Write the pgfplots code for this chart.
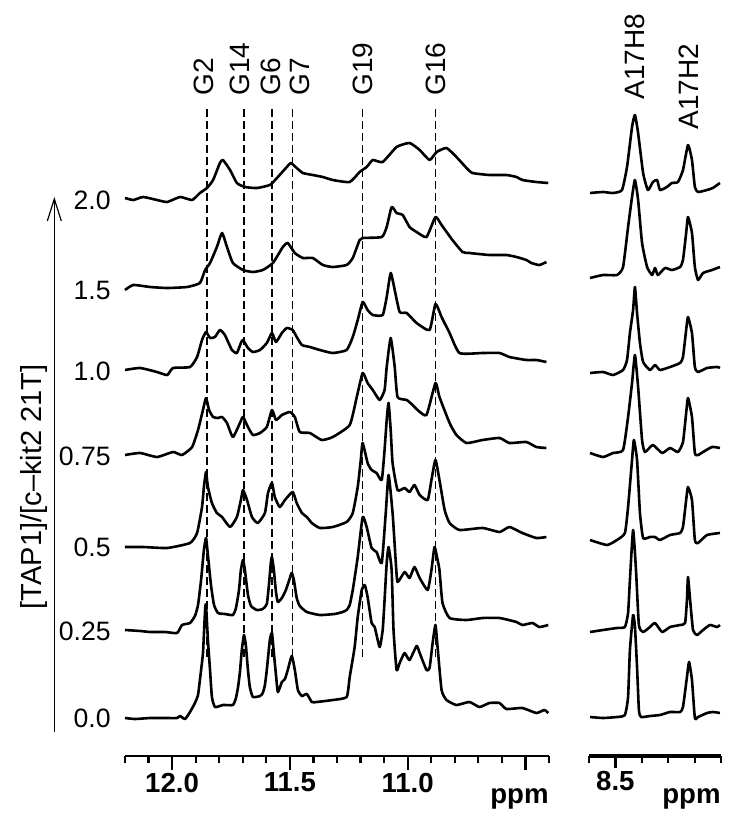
\documentclass[border=0pt]{standalone}
\usepackage{pgfplots}
\pgfplotsset{compat=1.18}
\usepackage{fontspec}
\setmainfont{Liberation Sans}
\usetikzlibrary{arrows.meta}
\pgfplotsset{
  spec/.style={line width=1.3pt, black, line join=round, mark=none, smooth, tension=0.3},
  guide/.style={line width=0.6pt, black, dash pattern=on 4pt off 2pt, mark=none},
}
\tikzset{toplab/.style={rotate=90, anchor=west, inner sep=0pt, font=\fontsize{14}{16}\selectfont}}
\begin{document}
\begin{tikzpicture}
\useasboundingbox (-62.5pt,-32pt) rectangle (307pt,378pt);
% ---------------- left panel: 12.2 -- 10.4 ppm ----------------
\begin{axis}[
  at={(0pt,0pt)}, anchor=south west,
  scale only axis, width=212pt, height=378pt,
  xmin=10.4, xmax=12.2, x dir=reverse,
  ymin=64, ymax=820,
  clip=false,
  axis x line*=bottom, axis y line*=left,
  y axis line style={draw=none},
  x axis line style={line width=1.1pt},
  ytick={102,189,273,364,449,530,620},
  yticklabels={0.0,0.25,0.5,0.75,1.0,1.5,2.0},
  ytick style={draw=none},
  yticklabel style={font=\fontsize{13.3}{15}\selectfont, inner sep=0pt},
  xtick={12.0,11.5,11.0,10.5},
  xticklabels={12.0,11.5,11.0,{}},
  minor xtick={12.2,12.1,11.9,11.8,11.7,11.6,11.4,11.3,11.2,11.1,10.9,10.8,10.7,10.6,10.4},
  tick align=outside,
  major tick length=7pt, minor tick length=3.5pt,
  xtick style={line width=1.1pt, black},
  xticklabel style={font=\bfseries\fontsize{13.8}{15}\selectfont, inner sep=0pt, yshift=-1.3pt},
  xlabel={ppm},
  xlabel style={at={(axis description cs:1,0)}, anchor=base east, yshift=-23.5pt,
    font=\bfseries\fontsize{13.8}{15}\selectfont, inner sep=0pt},
  ylabel={{[TAP1]/[c–kit2 21T]}},
  every axis y label/.style={at={(axis description cs:-0.215,0.356)}, rotate=90, anchor=center,
    font=\fontsize{14.5}{17}\selectfont},
]
% guide lines
\addplot[guide] coordinates {(11.852,163) (11.852,712)};
\addplot[guide] coordinates {(11.695,163) (11.695,712)};
\addplot[guide] coordinates {(11.576,163) (11.576,712)};
\addplot[guide] coordinates {(11.488,163) (11.488,712)};
\addplot[guide] coordinates {(11.191,163) (11.191,712)};
\addplot[guide] coordinates {(10.882,163) (10.882,712)};
% titration arrow
\addplot[line width=0.6pt, black, mark=none, -{Straight Barb[length=11pt, width=7pt]}] coordinates {(12.5,88) (12.5,623)};
% 0.0
\addplot[spec] coordinates {
(12.200,102)(12.157,101)(12.093,102)(12.030,102)(11.979,102)(11.966,104)(11.945,101)(11.924,108)
(11.903,117)(11.890,125)(11.882,140)(11.869,167)(11.860,210)(11.856,215)(11.848,180)(11.839,150)
(11.831,123)(11.818,113)(11.784,115)(11.742,115)(11.729,122)(11.720,133)(11.712,148)(11.704,170)
(11.695,185)(11.687,175)(11.678,150)(11.670,133)(11.657,123)(11.627,124)(11.615,127)(11.606,135)
(11.598,150)(11.585,180)(11.576,187)(11.568,167)(11.559,145)(11.551,128)(11.534,138)(11.521,141)
(11.509,150)(11.492,164)(11.479,150)(11.466,130)(11.449,124)(11.428,126)(11.407,118)(11.386,118)
(11.318,120)(11.259,123)(11.246,143)(11.225,173)(11.212,203)(11.195,230)(11.182,235)(11.170,223)
(11.153,197)(11.140,193)(11.119,173)(11.106,190)(11.098,220)(11.089,257)(11.081,273)(11.068,250)
(11.060,190)(11.047,150)(11.034,157)(11.013,167)(10.992,160)(10.962,174)(10.949,167)(10.920,150)
(10.907,152)(10.894,177)(10.882,195)(10.873,173)(10.856,130)(10.835,120)(10.793,115)(10.738,118)
(10.695,113)(10.653,117)(10.610,117)(10.581,111)(10.513,112)(10.454,107)(10.420,110)(10.403,107)};
% 0.25
\addplot[spec] coordinates {
(12.200,190)(12.136,189)(12.093,188)(12.030,188)(11.979,187)(11.958,195)(11.924,197)(11.903,204)
(11.890,215)(11.877,240)(11.865,270)(11.856,282)(11.848,265)(11.835,235)(11.822,215)(11.805,207)
(11.776,206)(11.742,205)(11.729,212)(11.716,230)(11.708,250)(11.699,260)(11.691,250)(11.678,225)
(11.665,214)(11.640,210)(11.615,211)(11.598,216)(11.589,235)(11.581,257)(11.576,263)(11.568,250)
(11.559,228)(11.551,218)(11.534,222)(11.517,230)(11.500,242)(11.492,247)(11.483,240)(11.471,222)
(11.458,214)(11.428,208)(11.373,205)(11.310,206)(11.276,208)(11.259,210)(11.246,215)(11.233,230)
(11.212,263)(11.191,303)(11.174,293)(11.153,272)(11.132,268)(11.110,257)(11.093,307)(11.081,345)
(11.064,307)(11.051,260)(11.043,238)(11.013,248)(10.992,242)(10.971,253)(10.949,242)(10.915,230)
(10.899,250)(10.886,273)(10.873,260)(10.865,250)(10.852,217)(10.822,202)(10.750,200)(10.682,202)
(10.610,202)(10.538,198)(10.513,195)(10.470,197)(10.441,193)(10.403,195)};
% 0.5
\addplot[spec] coordinates {
(12.200,273)(12.123,273)(12.021,272)(11.924,277)(11.894,287)(11.873,313)(11.865,333)(11.856,348)
(11.848,333)(11.831,317)(11.810,307)(11.788,303)(11.754,293)(11.725,303)(11.708,320)(11.699,330)
(11.682,320)(11.661,303)(11.636,297)(11.606,307)(11.593,327)(11.576,337)(11.564,323)(11.543,313)
(11.521,320)(11.488,328)(11.471,317)(11.449,307)(11.428,303)(11.407,297)(11.373,292)(11.318,293)
(11.259,298)(11.233,307)(11.212,333)(11.199,360)(11.191,377)(11.170,357)(11.153,350)(11.132,347)
(11.110,340)(11.098,370)(11.089,400)(11.081,417)(11.072,390)(11.064,357)(11.043,330)(11.013,332)
(10.992,328)(10.971,335)(10.949,325)(10.915,320)(10.899,340)(10.882,360)(10.865,340)(10.843,310)
(10.822,297)(10.780,290)(10.682,292)(10.610,288)(10.568,293)(10.513,287)(10.454,282)(10.411,283)};
% 0.75
\addplot[spec] coordinates {
(12.200,365)(12.136,367)(12.064,363)(11.996,368)(11.958,365)(11.915,373)(11.890,390)(11.869,410)
(11.856,422)(11.843,410)(11.826,403)(11.805,402)(11.788,403)(11.767,397)(11.742,383)(11.712,397)
(11.699,403)(11.678,393)(11.657,385)(11.627,387)(11.598,393)(11.576,410)(11.559,400)(11.534,405)
(11.500,408)(11.479,403)(11.458,388)(11.415,387)(11.365,380)(11.318,383)(11.246,395)(11.216,423)
(11.191,447)(11.170,437)(11.148,430)(11.119,420)(11.098,430)(11.089,453)(11.072,482)(11.055,453)
(11.043,423)(11.004,420)(10.979,415)(10.958,410)(10.920,405)(10.882,437)(10.865,423)(10.822,397)
(10.793,385)(10.750,377)(10.682,380)(10.610,382)(10.568,377)(10.496,378)(10.454,373)(10.411,372)};
% 1.0
\addplot[spec] coordinates {
(12.200,450)(12.136,452)(12.064,448)(12.021,445)(11.996,452)(11.924,453)(11.894,463)(11.873,480)
(11.856,488)(11.839,482)(11.818,483)(11.797,490)(11.776,485)(11.746,470)(11.725,467)(11.708,477)
(11.699,480)(11.678,472)(11.657,468)(11.627,470)(11.598,477)(11.576,487)(11.559,478)(11.534,487)
(11.513,492)(11.488,490)(11.471,483)(11.449,475)(11.415,473)(11.373,470)(11.318,467)(11.259,470)
(11.233,483)(11.212,500)(11.191,518)(11.170,510)(11.148,505)(11.106,505)(11.089,523)(11.072,547)
(11.055,530)(11.034,508)(11.004,507)(10.962,497)(10.907,490)(10.882,516)(10.856,503)(10.822,487)
(10.780,467)(10.682,467)(10.610,467)(10.568,463)(10.496,460)(10.454,460)(10.411,458)};
% 1.5
\addplot[spec] coordinates {
(12.200,530)(12.165,535)(12.093,533)(12.021,532)(11.937,533)(11.882,537)(11.860,550)(11.839,557)
(11.810,573)(11.788,587)(11.767,573)(11.742,557)(11.699,550)(11.657,548)(11.615,550)(11.572,557)
(11.530,573)(11.509,577)(11.479,567)(11.445,562)(11.403,562)(11.360,555)(11.318,553)(11.259,555)
(11.233,562)(11.204,580)(11.191,582)(11.110,583)(11.089,593)(11.068,613)(11.047,607)(11.021,605)
(10.992,593)(10.962,588)(10.920,583)(10.882,603)(10.856,595)(10.810,580)(10.767,568)(10.738,567)
(10.653,565)(10.581,565)(10.538,563)(10.496,560)(10.475,557)(10.441,555)(10.411,558)};
% 2.0
\addplot[spec] coordinates {
(12.200,622)(12.165,620)(12.123,623)(12.064,620)(12.021,618)(11.966,623)(11.915,620)(11.882,627)
(11.852,632)(11.826,640)(11.797,657)(11.784,660)(11.754,650)(11.725,637)(11.691,633)(11.640,632)
(11.585,635)(11.555,642)(11.513,653)(11.496,657)(11.471,652)(11.445,647)(11.403,645)(11.360,643)
(11.318,640)(11.246,638)(11.204,648)(11.174,653)(11.148,660)(11.106,658)(11.047,673)(10.992,677)
(10.949,670)(10.907,660)(10.877,668)(10.835,672)(10.793,663)(10.750,652)(10.725,647)(10.653,645)
(10.581,645)(10.538,643)(10.513,640)(10.454,638)(10.403,637)};
% peak labels
\node[toplab] at (axis cs:11.865,724) {G2};
\node[toplab] at (axis cs:11.712,724) {G14};
\node[toplab] at (axis cs:11.581,724) {G6};
\node[toplab] at (axis cs:11.458,724) {G7};
\node[toplab] at (axis cs:11.191,724) {G19};
\node[toplab] at (axis cs:10.882,724) {G16};
\end{axis}
% ---------------- right panel: 8.6 -- 8.1 ppm ----------------
\begin{axis}[
  at={(232pt,0pt)}, anchor=south west,
  scale only axis, width=66pt, height=378pt,
  xmin=8.1, xmax=8.6, x dir=reverse,
  ymin=64, ymax=820,
  clip=false,
  axis x line*=bottom, axis y line=none,
  x axis line style={line width=1.6pt},
  xtick={8.5}, xticklabels={8.5},
  minor xtick={8.6,8.4,8.3,8.2,8.1},
  tick align=outside,
  major tick length=6pt, minor tick length=3.5pt,
  xtick style={line width=1.1pt, black},
  xticklabel style={font=\bfseries\fontsize{13.8}{15}\selectfont, inner sep=0pt, yshift=-1.3pt},
  xlabel={ppm},
  xlabel style={at={(axis description cs:1,0)}, anchor=base east, yshift=-23.5pt,
    font=\bfseries\fontsize{13.8}{15}\selectfont, inner sep=0pt},
]
\addplot[spec] coordinates {
(8.596,103)(8.547,102)(8.494,103)(8.464,105)(8.452,123)(8.445,170)(8.433,205)(8.426,193)(8.418,153)
(8.411,110)(8.403,103)(8.369,104)(8.331,105)(8.293,108)(8.255,108)(8.244,113)(8.229,143)(8.221,158)
(8.210,140)(8.199,102)(8.187,103)(8.153,107)(8.131,108)(8.104,107)};
\addplot[spec] coordinates {
(8.596,188)(8.547,190)(8.494,192)(8.464,193)(8.452,207)(8.445,240)(8.433,290)(8.422,250)(8.411,195)
(8.395,188)(8.369,193)(8.350,197)(8.323,188)(8.293,193)(8.255,195)(8.236,197)(8.229,220)(8.225,243)
(8.217,220)(8.206,190)(8.191,185)(8.168,190)(8.142,195)(8.115,193)(8.104,195)};
\addplot[spec] coordinates {
(8.596,280)(8.532,275)(8.494,280)(8.464,287)(8.452,313)(8.437,360)(8.430,380)(8.418,360)(8.407,307)
(8.395,282)(8.369,283)(8.350,283)(8.331,280)(8.293,285)(8.255,287)(8.244,293)(8.232,320)(8.225,333)
(8.210,320)(8.199,280)(8.187,277)(8.153,285)(8.104,287)};
\addplot[spec] coordinates {
(8.596,367)(8.547,363)(8.509,367)(8.471,370)(8.452,403)(8.437,437)(8.426,465)(8.414,433)(8.399,380)
(8.388,368)(8.358,375)(8.323,367)(8.293,372)(8.263,368)(8.244,378)(8.232,407)(8.225,422)(8.210,403)
(8.199,367)(8.187,365)(8.168,368)(8.134,373)(8.104,372)};
\addplot[spec] coordinates {
(8.596,447)(8.547,448)(8.509,445)(8.471,450)(8.456,460)(8.445,487)(8.433,510)(8.426,533)(8.418,507)
(8.407,477)(8.395,458)(8.369,450)(8.350,455)(8.331,450)(8.293,453)(8.255,457)(8.244,463)(8.232,490)
(8.225,503)(8.210,487)(8.199,453)(8.187,448)(8.153,452)(8.115,453)(8.104,452)};
\addplot[spec] coordinates {
(8.596,542)(8.547,545)(8.494,545)(8.471,553)(8.452,593)(8.437,623)(8.426,640)(8.414,620)(8.399,577)
(8.380,553)(8.361,545)(8.350,552)(8.339,545)(8.312,552)(8.286,550)(8.255,553)(8.244,560)(8.232,587)
(8.225,603)(8.210,587)(8.199,553)(8.187,540)(8.168,547)(8.134,550)(8.104,553)};
\addplot[spec] coordinates {
(8.596,627)(8.547,628)(8.509,627)(8.475,630)(8.456,653)(8.437,693)(8.426,705)(8.414,687)(8.395,647)
(8.377,630)(8.358,638)(8.342,640)(8.331,630)(8.305,633)(8.286,637)(8.263,638)(8.244,650)(8.225,675)
(8.210,660)(8.199,633)(8.187,628)(8.153,630)(8.131,632)(8.104,637)};
\node[toplab] at (axis cs:8.426,720) {A17H8};
\node[toplab] at (axis cs:8.221,690) {A17H2};
\end{axis}
\end{tikzpicture}
\end{document}
